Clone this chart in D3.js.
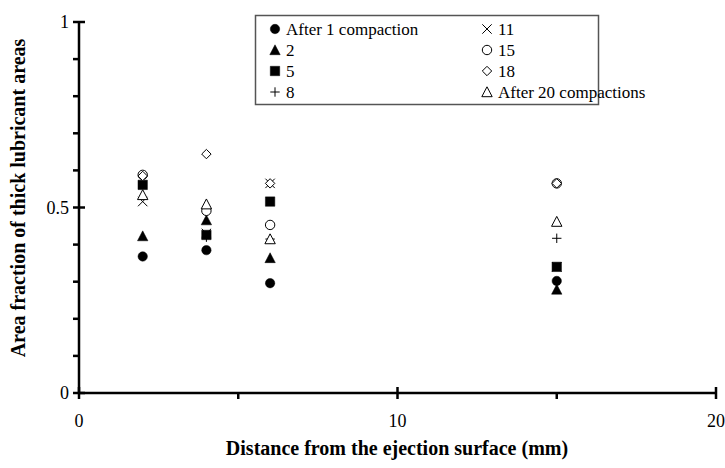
<!DOCTYPE html>
<html>
<head>
<meta charset="utf-8">
<script src="https://cdn.jsdelivr.net/npm/d3@7"></script>
<style>
  body { margin: 0; background: #fff; }
  svg text { font-family: "Liberation Serif", "Times New Roman", Times, "DejaVu Serif", serif; fill: #000; }
</style>
</head>
<body>
<svg id="chart"></svg>
<script>
const width = 725;
const height = 468;

// distances (mm)
const distances = [2, 4, 6, 15];

// area fraction per compaction count
const after1 = [0.368, 0.385, 0.296, 0.302];
const after2 = [0.423, 0.466, 0.364, 0.279];
const after5 = [0.561, 0.426, 0.516, 0.340];
const after8 = [0.585, 0.420, 0.415, 0.417];
const after11 = [0.516, 0.430, 0.565, 0.340];
const after15 = [0.588, 0.491, 0.453, 0.565];
const after18 = [0.585, 0.644, 0.565, 0.565];
const after20 = [0.534, 0.509, 0.415, 0.462];

const seriesNames = ["After 1 compaction", "2", "5", "8", "11", "15", "18", "After 20 compactions"];
const seriesValues = [after1, after2, after5, after8, after11, after15, after18, after20];
const seriesMarks = ["dot", "tri", "sq", "plus", "times", "ring", "diamond", "opentri"];

const xTicks = [0, 10, 20];
const xMinor = [5, 15];
const yTicks = [0, 0.5, 1];
const yMinor = [0.1, 0.2, 0.3, 0.4, 0.6, 0.7, 0.8, 0.9];

const serif = '"Liberation Serif", "Times New Roman", Times, "DejaVu Serif", serif';

const svg = d3.select("#chart").attr("width", width).attr("height", height);

const x = d3.scaleLinear().domain([0, 20]).range([79, 716]);
const y = d3.scaleLinear().domain([0, 1]).range([393, 22]);

// marker paths, centred on 0,0
function markPath(type) {
  const r = 4.7;
  switch (type) {
    case "dot":
    case "ring":
      return `M${r},0A${r},${r} 0 1,1 ${-r},0A${r},${r} 0 1,1 ${r},0Z`;
    case "tri":
    case "opentri":
      return `M0,${-r - 0.5}L${r + 0.5},${r}L${-r - 0.5},${r}Z`;
    case "sq":
      return `M${-r},${-r}H${r}V${r}H${-r}Z`;
    case "plus":
      return `M${-r},0H${r}M0,${-r}V${r}`;
    case "times":
      return `M${-r},${-r}L${r},${r}M${r},${-r}L${-r},${r}`;
    case "diamond":
      return `M0,${-r}L${r},0L0,${r}L${-r},0Z`;
  }
}
function markStyle(sel, type) {
  const filled = type === "dot" || type === "tri" || type === "sq";
  sel.attr("fill", filled ? "#000" : (type === "plus" || type === "times" ? "none" : "#fff"))
    .attr("stroke", "#000")
    .attr("stroke-width", filled ? 0.5 : 1);
}

// axes
svg.append("line").attr("x1", x(0)).attr("x2", x(20)).attr("y1", y(0)).attr("y2", y(0))
  .attr("stroke", "#000").attr("stroke-width", 2.5);
svg.append("line").attr("x1", x(0)).attr("x2", x(0)).attr("y1", y(0)).attr("y2", y(1))
  .attr("stroke", "#000").attr("stroke-width", 2.5);

svg.selectAll(".xmaj").data(xTicks).enter().append("line")
  .attr("x1", d => x(d)).attr("x2", d => x(d)).attr("y1", y(0) - 6).attr("y2", y(0) + 6)
  .attr("stroke", "#000").attr("stroke-width", 2.5);
svg.selectAll(".xmin").data(xMinor).enter().append("line")
  .attr("x1", d => x(d)).attr("x2", d => x(d)).attr("y1", y(0)).attr("y2", y(0) + 6)
  .attr("stroke", "#000").attr("stroke-width", 2.5);
svg.selectAll(".ymaj").data(yTicks).enter().append("line")
  .attr("x1", x(0) - 6).attr("x2", x(0) + 6).attr("y1", d => y(d)).attr("y2", d => y(d))
  .attr("stroke", "#000").attr("stroke-width", 2.5);
svg.selectAll(".ymin").data(yMinor).enter().append("line")
  .attr("x1", x(0) - 6).attr("x2", x(0)).attr("y1", d => y(d)).attr("y2", d => y(d))
  .attr("stroke", "#000").attr("stroke-width", 2.5);

svg.selectAll(".xlab").data(xTicks).enter().append("text")
  .attr("font-family", serif)
  .attr("x", d => x(d)).attr("y", 427)
  .attr("text-anchor", "middle").attr("font-size", 18)
  .text(d => d);
svg.selectAll(".ylab").data(yTicks).enter().append("text")
  .attr("font-family", serif)
  .attr("x", 69).attr("y", d => y(d)).attr("dy", "0.35em")
  .attr("text-anchor", "end").attr("font-size", 18)
  .text(d => d);

svg.append("text").attr("x", 397).attr("y", 455)
  .attr("font-family", serif)
  .attr("text-anchor", "middle").attr("font-size", 20).attr("font-weight", "bold")
  .text("Distance from the ejection surface (mm)");
svg.append("text").attr("transform", "translate(25,198) rotate(-90)")
  .attr("font-family", serif)
  .attr("text-anchor", "middle").attr("font-size", 20).attr("font-weight", "bold")
  .text("Area fraction of thick lubricant areas");

// points
seriesValues.forEach((vals, s) => {
  const g = svg.append("g");
  g.selectAll("path").data(vals).enter().append("path")
    .attr("d", markPath(seriesMarks[s]))
    .attr("transform", (d, i) => `translate(${x(distances[i])},${y(d)})`)
    .call(markStyle, seriesMarks[s]);
});

// legend
const legend = svg.append("g");
legend.append("rect").attr("x", 255.5).attr("y", 15.5).attr("width", 343).attr("height", 89)
  .attr("fill", "#fff").attr("stroke", "#555").attr("stroke-width", 1.5);
seriesNames.forEach((name, s) => {
  const col = Math.floor(s / 4), row = s % 4;
  const lx = col === 0 ? 275 : 487;
  const ly = 29 + row * 21;
  legend.append("path").attr("d", markPath(seriesMarks[s]))
    .attr("transform", `translate(${lx},${ly})`)
    .call(markStyle, seriesMarks[s]);
  legend.append("text").attr("x", lx + 11).attr("y", ly).attr("dy", "0.35em")
    .attr("font-family", serif)
    .attr("font-size", 17).text(name);
});
</script>
</body>
</html>
